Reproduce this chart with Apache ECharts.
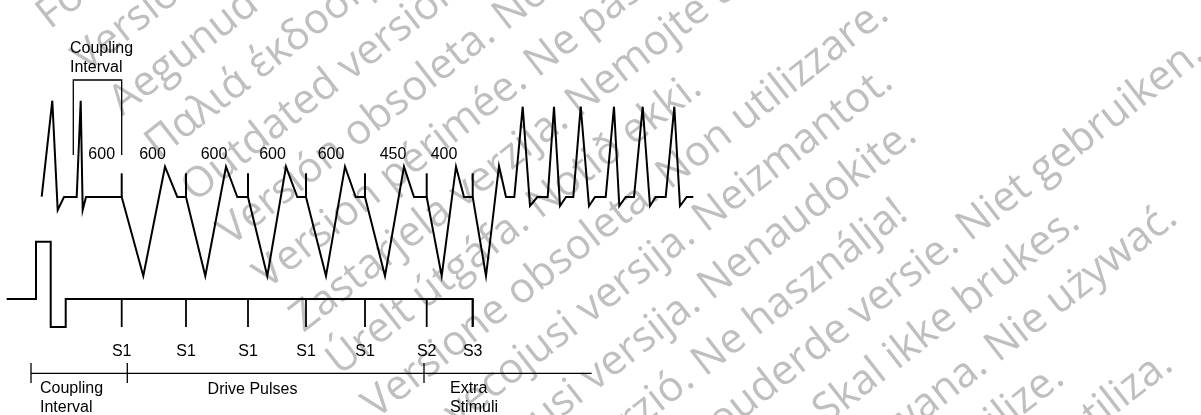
<!DOCTYPE html>
<html><head><meta charset="utf-8">
<script src="https://cdn.jsdelivr.net/npm/echarts@6/dist/echarts.min.js"></script>
<style>html,body{margin:0;padding:0;background:#fff}#c{width:1201px;height:415px}</style>
</head><body><div id="c"></div>
<script>
const ecgTrace = [
  [41.7,196.7],[52.3,100.7],[57.7,210],[64,197],[76.7,197],[80.7,100.7],[82.7,210],[86,197],[121.7,197],
  [143.3,276],[165,166.7],[177.3,197],[186,197],
  [205.3,276],[226,166.7],[237.3,197],[248,197],
  [267.3,276],[286,166.7],[297.3,197],[306,197],
  [326,276],[345,166.7],[355.7,197],[365,197],
  [385,276],[404,166.7],[414,197],[426.7,197],
  [441.7,276],[456,166.7],[464,197],[472.7,197],
  [486,276],[499,166],[506,197],[514.3,197],
  [522.7,106.7],[530,206],[537.3,197],[547.7,197],
  [554,106.7],[560,206],[566,197],[573.3,197],
  [580.7,106.7],[589,206],[595,197],[605.7,197],
  [614,106.7],[619.3,206],[625.7,197],[634,197],
  [642.7,106.7],[650,206],[655.7,197],[665.7,197],
  [674.3,106.7],[680,206],[686.7,197],[693.3,197]
];
const stimX = [121.7, 186, 248, 306, 365, 426.7, 472.7];
const stimLabels = ['S1','S1','S1','S1','S1','S2','S3'];
const ecgSpike = [173.3, 197];
const pulseTrace = [[6.7,299],[36,299],[36,241.7],[50.7,241.7],[50.7,327],[65.7,327],[65.7,299],[472.7,299],[472.7,327]];
const pulseTick = [299, 327];
const intervalValues = ['600','600','600','600','600','450','400'];
const intervalX = [101.7, 152.5, 214, 272.5, 331, 393, 444];
const intervalY = 154.8;
const couplingBracket = [[73.3,155],[73.3,80],[121.7,80],[121.7,155]];
const phaseBounds = [31, 127.3, 424];
const phaseEnd = 591.7;
const phaseNames = ['Coupling\nInterval', 'Drive Pulses', 'Extra\nStimuli'];
const phaseLabelX = [40, 252.5, 450];
const watermarkLines = [
 'Остаряла версия. Да не се използва.',
 'Zastaralá verze. Nepoužívat.',
 'Forældet version. Må ikke anvendes.',
 'Version überholt. Nicht verwenden.',
 'Aegunud versioon. Ärge kasutage.',
 'Παλιά έκδοση. Μην την χρησιμοποιείτε.',
 'Outdated version. Do not use.',
 'Versión obsoleta. No utilizar.',
 'Version périmée. Ne pas utiliser.',
 'Zastarjela verzija. Nemojte upotrebljavati.',
 'Úrelt útgáfa. Notið ekki.',
 'Versione obsoleta. Non utilizzare.',
 'Novecojusi versija. Neizmantot.',
 'Pasenusi versija. Nenaudokite.',
 'Elavult verzió. Ne használja!',
 'Dit is een verouderde versie. Niet gebruiken.',
 'Utdatert versjon. Skal ikke brukes.',
 'Wersja przeterminowana. Nie używać.',
 'Versão obsoleta. Não utilize.',
 'Versiune expirată. A nu se utiliza.',
 'Zastaraná verzia. Nepoužívať.',
 'Zastarela različica. Ne uporabite.',
 'Vanhentunut versio. Älä käytä.',
 'Föråldrad version. Använd ej.',
 'Güncel olmayan sürüm. Kullanmayın.'
];

const FONT = '"Liberation Sans", Arial, sans-serif';
const chart = echarts.init(document.getElementById('c'), null, {renderer:'canvas'});

function segSeries(segs, width) {
  return {
    type:'custom', coordinateSystem:'cartesian2d', z:5, silent:true, animation:false,
    data: segs,
    renderItem: function(params, api) {
      const a = api.coord([api.value(0), api.value(1)]);
      const b = api.coord([api.value(2), api.value(3)]);
      return {type:'line', shape:{x1:a[0],y1:a[1],x2:b[0],y2:b[1]},
              style:{stroke:'#000', lineWidth:width, lineCap:'butt'}};
    }
  };
}
function textSeries(items, lineHeight) {
  return {
    type:'custom', coordinateSystem:'cartesian2d', z:6, silent:true, animation:false,
    data: items,
    renderItem: function(params, api) {
      const it = items[params.dataIndex];
      const p = api.coord([it[0], it[1]]);
      return {type:'text', x:p[0], y:p[1],
        style:{text:it[2], fill:'#000', font:'16px ' + FONT, align:it[3] || 'center',
               verticalAlign:'middle', lineHeight:lineHeight || 19}};
    }
  };
}

const spikeSegs = stimX.map(x => [x, ecgSpike[0], x, ecgSpike[1]]);
const pulseTickSegs = stimX.map(x => [x, pulseTick[0], x, pulseTick[1]]);
const timelineSegs = [[phaseBounds[0], 373.3, phaseEnd, 373.3]].concat(phaseBounds.map(x => [x, 363, x, 383]));

const stimTextItems = stimX.map((x, i) => [x, 352, stimLabels[i], 'center']);
const intervalItems = intervalX.map((x, i) => [x, intervalY, intervalValues[i], 'center']);
const phaseItems = phaseNames.map((t, i) => [phaseLabelX[i], t.indexOf('\n') >= 0 ? 398.5 : 389.5, t, i === 1 ? 'center' : 'left']);
const topItems = [[70, 58.5, 'Coupling\nInterval', 'left']];

// watermark: a rotated, left-aligned block of text lines
const th = 38 * Math.PI / 180, WF = 42;
const wm = watermarkLines.map((t, i) => {
  const d = 732 + 56.43 * (i - 14);
  const s0 = 17 + 1.9 * i;
  const px = s0 * Math.cos(th) + d * Math.sin(th);
  const py = -s0 * Math.sin(th) + d * Math.cos(th);
  const k = 0.3 * WF;
  return {type:'text', x: px - k * Math.sin(th), y: py - k * Math.cos(th), rotation: th, z: 0, silent:true,
    style:{text:t, fill:'#bfbfbf', font: WF + 'px "Open Sans", sans-serif', align:'left', verticalAlign:'middle'}};
});

chart.setOption({
  animation:false,
  backgroundColor:'#fff',
  grid:{left:0, right:0, top:0, bottom:0},
  xAxis:{type:'value', min:0, max:1201, show:false},
  yAxis:{type:'value', min:0, max:415, inverse:true, show:false},
  graphic: wm,
  series:[
    {type:'line', data:ecgTrace, showSymbol:false, symbol:'none', z:5, silent:true,
     lineStyle:{color:'#000', width:2, join:'miter'}},
    {type:'line', data:pulseTrace, showSymbol:false, symbol:'none', z:5, silent:true,
     lineStyle:{color:'#000', width:2, join:'miter'}},
    {type:'line', data:couplingBracket, showSymbol:false, symbol:'none', z:5, silent:true,
     lineStyle:{color:'#000', width:1.3, join:'miter'}},
    segSeries(spikeSegs, 2),
    segSeries(pulseTickSegs, 1.8),
    segSeries(timelineSegs, 1.3),
    textSeries(stimTextItems),
    textSeries(intervalItems),
    textSeries(phaseItems, 19),
    textSeries(topItems, 19)
  ]
});
</script></body></html>
